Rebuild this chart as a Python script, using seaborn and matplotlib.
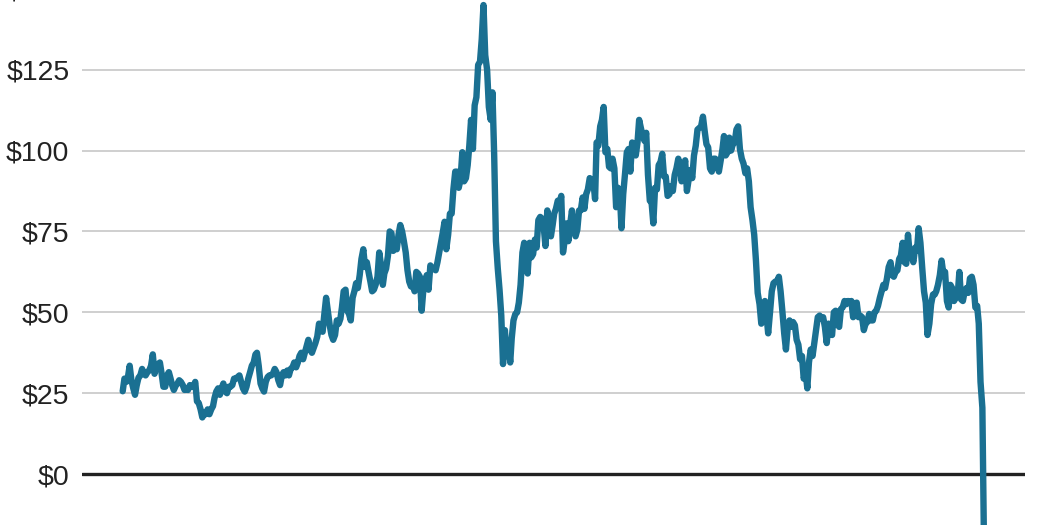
import pandas as pd
import matplotlib.pyplot as plt
import seaborn as sns

# WTI crude price (1st and 16th of each month)
price_2000 = [25.6, 29.5, 28.5, 30.2, 33.5, 29.0, 26.5, 24.5, 27.5, 29.8, 30.5, 32.5,
              31.0, 30.5, 31.5, 32.0, 33.5, 37.0, 31.0, 33.5, 34.0, 34.5, 31.0, 27.0]
price_2001 = [27.0, 30.5, 31.5, 29.5, 27.5, 26.0, 27.3, 28.0, 29.0, 28.5, 27.5, 26.0,
              26.5, 26.0, 27.5, 27.0, 27.0, 28.5, 22.5, 22.0, 20.0, 17.5, 19.0, 18.5]
price_2002 = [20.0, 18.5, 20.0, 21.0, 23.5, 25.5, 26.5, 24.5, 26.5, 28.0, 25.5, 25.0,
              27.0, 27.0, 27.5, 29.5, 29.5, 30.0, 30.5, 28.5, 26.5, 25.5, 27.0, 29.5]
price_2003 = [31.5, 33.5, 34.5, 37.0, 37.5, 33.5, 28.0, 26.5, 25.5, 28.5, 30.0, 30.5,
              30.5, 31.0, 32.5, 31.5, 29.0, 27.5, 30.5, 31.5, 30.5, 32.0, 30.5, 32.5]
price_2004 = [33.0, 34.5, 33.0, 34.5, 36.5, 37.5, 35.5, 37.5, 39.5, 41.5, 38.5, 37.5,
              39.0, 40.5, 42.5, 46.5, 44.5, 44.0, 49.5, 54.5, 50.0, 46.0, 43.0, 41.5]
price_2005 = [43.0, 47.5, 46.5, 48.0, 51.5, 56.5, 57.0, 50.5, 49.5, 47.5, 54.5, 56.5,
              59.0, 57.5, 61.5, 66.5, 69.5, 64.0, 65.5, 62.5, 59.5, 56.5, 57.0, 58.5]
price_2006 = [61.0, 68.5, 64.5, 58.5, 62.0, 63.5, 67.5, 75.0, 74.5, 69.0, 71.0, 69.5,
              74.0, 77.0, 75.0, 72.0, 68.5, 63.0, 59.5, 58.0, 58.5, 56.5, 62.5, 62.0]
price_2007 = [61.0, 50.5, 57.5, 59.0, 61.5, 57.0, 64.5, 63.5, 63.5, 63.0, 65.5, 68.5,
              71.5, 74.5, 78.0, 69.5, 74.0, 80.5, 80.5, 88.0, 93.5, 93.5, 88.5, 91.0]
price_2008 = [99.5, 90.5, 91.5, 95.5, 101.5, 109.5, 100.5, 114.0, 116.5, 126.5, 127.5, 134.5,
              145.0, 129.5, 125.0, 113.5, 109.5, 118.0, 98.5, 72.0, 63.5, 57.0, 49.0, 34.0]
price_2009 = [44.5, 36.5, 40.0, 34.5, 42.0, 47.5, 49.5, 50.0, 53.0, 58.5, 68.5, 71.5,
              68.5, 62.0, 71.5, 67.0, 68.0, 72.5, 70.0, 78.5, 79.5, 79.0, 76.5, 70.5]
price_2010 = [81.5, 78.0, 73.5, 77.0, 80.5, 82.0, 84.5, 83.5, 86.0, 68.5, 72.5, 77.5,
              72.0, 77.0, 81.5, 75.5, 73.5, 75.5, 81.5, 81.5, 85.5, 82.0, 86.5, 88.0]
price_2011 = [91.5, 91.0, 90.5, 85.0, 102.5, 101.5, 107.5, 109.5, 113.5, 99.5, 100.5, 95.0,
              94.5, 97.5, 94.5, 82.5, 88.5, 87.5, 76.0, 86.5, 93.0, 99.5, 100.5, 93.5]
price_2012 = [102.5, 100.5, 98.5, 102.5, 109.5, 107.0, 104.5, 103.0, 105.5, 92.5, 84.5, 84.0,
              77.5, 88.5, 88.0, 95.5, 96.5, 99.0, 92.0, 92.0, 86.0, 86.5, 89.0, 87.5]
price_2013 = [92.5, 94.5, 97.5, 95.5, 90.5, 93.0, 97.0, 87.5, 91.0, 94.0, 91.5, 98.5,
              101.5, 106.5, 107.0, 107.5, 110.5, 106.0, 102.0, 101.0, 94.5, 93.5, 97.5, 97.5]
price_2014 = [95.5, 93.5, 97.0, 100.5, 104.5, 98.5, 99.5, 104.0, 100.0, 102.0, 102.5, 106.5,
              107.5, 100.5, 97.5, 96.0, 93.0, 94.5, 90.5, 82.5, 78.5, 74.0, 66.0, 56.0]
price_2015 = [52.5, 46.5, 48.5, 53.5, 49.5, 43.5, 50.0, 56.5, 59.0, 59.5, 59.5, 61.0,
              56.5, 50.5, 43.5, 38.5, 45.5, 47.5, 45.5, 47.0, 46.0, 41.5, 40.0, 35.5]
price_2016 = [36.5, 29.5, 31.5, 26.5, 34.5, 38.5, 36.5, 40.5, 44.5, 48.5, 49.0, 48.0,
              48.5, 45.5, 40.5, 46.5, 43.5, 43.0, 50.0, 50.5, 46.5, 45.5, 51.0, 51.5]
price_2017 = [53.5, 52.5, 53.5, 53.0, 53.5, 48.5, 50.5, 53.0, 48.5, 49.0, 48.5, 44.5,
              46.5, 47.0, 49.5, 47.5, 47.5, 50.0, 50.5, 52.0, 54.5, 56.5, 58.5, 57.5]
price_2018 = [60.5, 64.0, 65.5, 61.5, 61.0, 62.5, 63.0, 66.5, 67.5, 71.5, 65.5, 65.0,
              74.0, 68.0, 67.5, 65.5, 70.0, 69.0, 76.0, 71.5, 63.5, 56.5, 53.0, 43.0]
price_2019 = [46.5, 52.5, 55.5, 55.5, 56.5, 58.5, 61.5, 66.0, 62.0, 62.5, 53.5, 51.5,
              58.5, 57.5, 53.5, 54.5, 55.0, 62.5, 54.0, 53.5, 56.5, 57.5, 56.0, 60.5]
price_2020 = [61.0, 58.5, 51.5, 52.0, 46.5, 28.5, 20.5, -37.6]

prices = (price_2000 + price_2001 + price_2002 + price_2003 + price_2004 +
          price_2005 + price_2006 + price_2007 + price_2008 + price_2009 +
          price_2010 + price_2011 + price_2012 + price_2013 + price_2014 +
          price_2015 + price_2016 + price_2017 + price_2018 + price_2019 +
          price_2020)

dates = list(pd.date_range("2000-01-01", "2020-04-01", freq="SMS-16"))
dates.append(pd.Timestamp("2020-04-20"))

df = pd.DataFrame({"date": dates, "price": prices})

y_ticks = [0, 25, 50, 75, 100, 125, 150]
y_labels = ["$0", "$25", "$50", "$75", "$100", "$125", "$150"]

sns.set_style("white")
plt.rcParams["font.family"] = ["Liberation Sans", "DejaVu Sans"]

fig = plt.figure(figsize=(10.5, 5.25), dpi=100)
ax = fig.add_axes([0.078, -0.057, 0.898, 1.109])

ax.axhline(0, color="#222222", lw=2.4, zorder=2)
sns.lineplot(data=df, x="date", y="price", ax=ax, color="#1a7092",
             lw=4.6, zorder=3, solid_joinstyle="round", solid_capstyle="round")

ax.set_ylim(-25, 155)
ax.set_xlim(pd.Timestamp("1999-01-15"), pd.Timestamp("2021-04-01"))
ax.set_yticks(y_ticks)
ax.set_yticklabels(y_labels, fontsize=20.5, color="#222222")
ax.set_xticks([])
ax.tick_params(axis="y", length=0, pad=9)
ax.yaxis.grid(True, color="#cccccc", lw=1.3)
ax.set_axisbelow(True)
ax.set_xlabel("")
ax.set_ylabel("")
sns.despine(ax=ax, left=True, bottom=True)

fig.savefig("out.png", dpi=100)
